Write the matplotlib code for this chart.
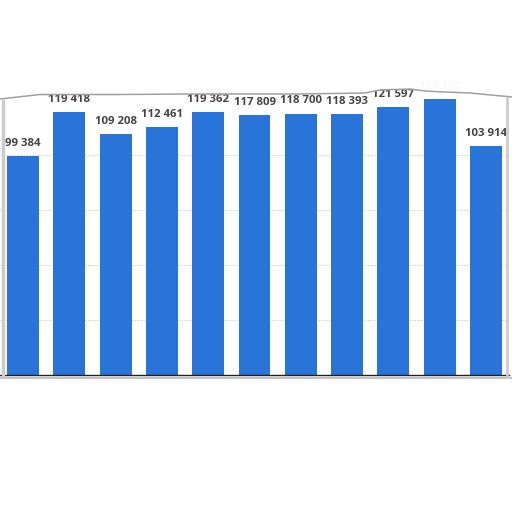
import matplotlib.pyplot as plt
from matplotlib.patches import Polygon

# values (bar 10 label is hidden by the torn edge)
values = [99384, 119418, 109208, 112461, 119362, 117809, 118700, 118393, 121597, 125300, 103914]
labels = ["99 384", "119 418", "109 208", "112 461", "119 362", "117 809",
          "118 700", "118 393", "121 597", "125 300", "103 914"]
grid_ticks = [25000, 50000, 75000, 100000]

BAR_COLOR = "#2874D9"
LABEL_COLOR = "#444444"

fig = plt.figure(figsize=(5.12, 5.12), dpi=100)
fig.patch.set_facecolor("white")

ax = fig.add_axes([0.0, 137 / 512, 509 / 512, 278 / 512])
ax.set_xlim(-0.5, len(values) - 0.5)
ax.set_ylim(0, 126200)
ax.set_facecolor("white")

for y in grid_ticks:
    ax.axhline(y, color="#cfcfcf", linewidth=0.7, linestyle=(0, (1.5, 1.5)), zorder=0)

xs = list(range(len(values)))
ax.bar(xs, values, width=0.69, color=BAR_COLOR, zorder=2)
for x, v, lab in zip(xs, values, labels):
    ax.annotate(lab, (x, v), xytext=(0, 5.2), textcoords="offset points",
                ha="center", va="bottom", fontsize=8.2, fontweight="bold",
                color=LABEL_COLOR, family=["Open Sans", "DejaVu Sans"],
                annotation_clip=False, zorder=3)

ax.set_xticks([])
ax.set_yticks([])
for side in ("top", "right", "left"):
    ax.spines[side].set_visible(False)
ax.spines["bottom"].set_color("#222222")
ax.spines["bottom"].set_linewidth(1.0)

# torn paper edge on top, in figure pixels
edge_x = [0, 40, 120, 190, 300, 365, 380, 410, 425, 445, 470, 512]
edge_y = [99, 94.5, 94.5, 94, 94, 93, 90, 89, 91, 92, 93, 97]
pts = [(x / 512, 1 - y / 512) for x, y in zip(edge_x, edge_y)]
cover = Polygon(pts + [(1, 1), (0, 1)], closed=True, transform=fig.transFigure,
                facecolor="white", edgecolor="none", alpha=0.97, zorder=10)
fig.patches.append(cover)
fig.lines.append(plt.Line2D([p[0] for p in pts], [p[1] for p in pts], transform=fig.transFigure,
                            color="#a0a0a0", linewidth=1.1, zorder=11))

# side and bottom shadow of the cut-out
fig.lines.append(plt.Line2D([3 / 512, 3 / 512], [1 - 100 / 512, 1 - 377 / 512], transform=fig.transFigure,
                            color="#cccccc", linewidth=2.5, zorder=11))
fig.lines.append(plt.Line2D([507 / 512, 507 / 512], [1 - 98 / 512, 1 - 377 / 512], transform=fig.transFigure,
                            color="#cccccc", linewidth=2.0, zorder=11))
fig.lines.append(plt.Line2D([0, 1], [1 - 378 / 512, 1 - 378 / 512], transform=fig.transFigure,
                            color="#c4c4c4", linewidth=1.5, zorder=1))

fig.savefig("out.png", dpi=100)
